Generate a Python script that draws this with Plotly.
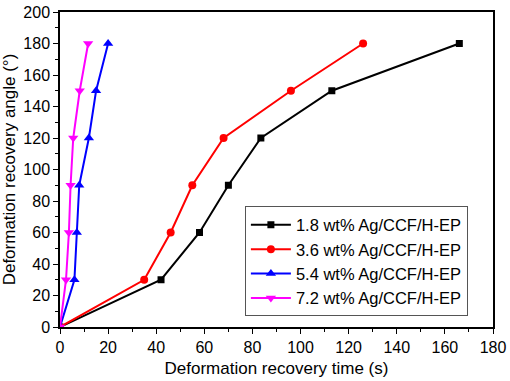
import plotly.graph_objects as go

labels = ["1.8 wt% Ag/CCF/H-EP", "3.6 wt% Ag/CCF/H-EP", "5.4 wt% Ag/CCF/H-EP", "7.2 wt% Ag/CCF/H-EP"]
angle = [0, 30, 60, 90, 120, 150, 180]
t_18 = [0, 42, 58, 70, 83.5, 113, 166]
t_36 = [0, 35, 46, 55, 68, 96, 126]
t_54 = [0, 6, 7, 8, 12, 15, 20]
t_72 = [0, 2.5, 3.7, 4.4, 5.5, 8.2, 11.7]

colors = ["#000000", "#ff0000", "#0000ff", "#ff00ff"]
symbols = ["square", "circle", "triangle-up", "triangle-down"]
sizes = [7, 8, 9, 9]

FONT = "Liberation Sans, Arial"

fig = go.Figure()
for lab, xs, c, s, sz in zip(labels, [t_18, t_36, t_54, t_72], colors, symbols, sizes):
    fig.add_trace(go.Scatter(x=xs, y=angle, mode="lines+markers", name=lab,
                             line=dict(color=c, width=2),
                             marker=dict(color=c, symbol=s, size=sz)))

axis_common = dict(showline=True, linecolor="black", linewidth=1.5, mirror=True,
                   ticks="outside", ticklen=5, tickwidth=1, tickcolor="black",
                   showgrid=False, zeroline=False, automargin=False,
                   tickfont=dict(family=FONT, size=16, color="black"),
                   minor=dict(ticks="outside", ticklen=3, tickcolor="black", tickwidth=1))

fig.update_xaxes(range=[0, 180], dtick=20, minor_dtick=10,
                 title=dict(text="Deformation recovery time (s)", standoff=7,
                            font=dict(family=FONT, size=17, color="black")),
                 **axis_common)
fig.update_yaxes(range=[0, 200], dtick=20, minor_dtick=10,
                 title=dict(text="Deformation recovery angle (°)", standoff=4,
                            font=dict(family=FONT, size=17, color="black")),
                 **axis_common)

fig.update_layout(
    width=510, height=381,
    margin=dict(l=60, r=17, t=12, b=54),
    paper_bgcolor="white", plot_bgcolor="white",
    font=dict(family=FONT, color="black"),
    legend=dict(x=0.427, y=0.208, xanchor="left", yanchor="middle",
                bgcolor="white", bordercolor="#555", borderwidth=1,
                font=dict(size=16.5, color="black"),
                itemwidth=40, tracegroupgap=0),
)

fig.write_html("out.html", config={"displayModeBar": False},
               post_script="document.body.style.margin='0';document.body.style.overflow='hidden';")
